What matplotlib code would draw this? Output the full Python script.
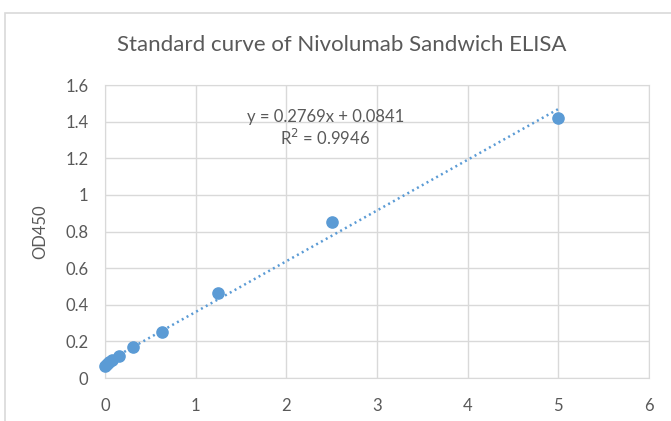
import numpy as np
import matplotlib
matplotlib.use("Agg")
import matplotlib.pyplot as plt
from matplotlib.patches import Rectangle

plt.rcParams['font.family'] = ['Lato', 'DejaVu Sans']

# standard concentrations and OD readings
conc = [0, 0.0195, 0.039, 0.078, 0.156, 0.3125, 0.625, 1.25, 2.5, 5]
od450 = [0.068, 0.075, 0.085, 0.10, 0.12, 0.17, 0.25, 0.465, 0.85, 1.42]
slope = 0.2769
icept = 0.0841
xticks = [0, 1, 2, 3, 4, 5, 6]
yticks = [0, 0.2, 0.4, 0.6, 0.8, 1, 1.2, 1.4, 1.6]
ylabels = ['0', '0.2', '0.4', '0.6', '0.8', '1', '1.2', '1.4', '1.6']

blue = '#5b9bd5'
grey = '#595959'

fig = plt.figure(figsize=(6.71, 4.21), dpi=100)
fig.patches.append(Rectangle((5/671, -0.1), 1.2, (421-13)/421 + 0.1,
                             transform=fig.transFigure, fill=False,
                             edgecolor='#d9d9d9', lw=1.2))
ax = fig.add_axes([0.1565, 0.102, 0.8105, 0.696])

ax.scatter(conc, od450, s=65, color=blue, zorder=3, clip_on=False)
xl = np.array([0, 5])
ax.plot(xl, slope*xl + icept, ls=(0, (0.8, 1.4)), color=blue, lw=1.8, zorder=2)

ax.set_xlim(0, 6)
ax.set_ylim(0, 1.6)
ax.set_xticks(xticks)
ax.set_xticklabels([str(t) for t in xticks])
ax.set_yticks(yticks)
ax.set_yticklabels(ylabels)
ax.grid(True, color='#d9d9d9', lw=1)
ax.set_axisbelow(True)
for s in ax.spines.values():
    s.set_color('#d9d9d9')
ax.tick_params(length=0, colors=grey, labelsize=12)
ax.tick_params(axis='x', pad=14)
ax.tick_params(axis='y', pad=12)

ax.set_ylabel('OD450', color=grey, fontsize=12, labelpad=12)
fig.text(342/671, 1 - 45/421, 'Standard curve of Nivolumab Sandwich ELISA',
         color=grey, fontsize=16, ha='center', va='center')

ax.text(2.43, 1.425, 'y = 0.2769x + 0.0841', ha='center', va='center',
        color=grey, fontsize=12)
ax.text(2.43, 1.31, 'R$^2$ = 0.9946', ha='center', va='center',
        color=grey, fontsize=12)

fig.savefig('out.png', dpi=100)
